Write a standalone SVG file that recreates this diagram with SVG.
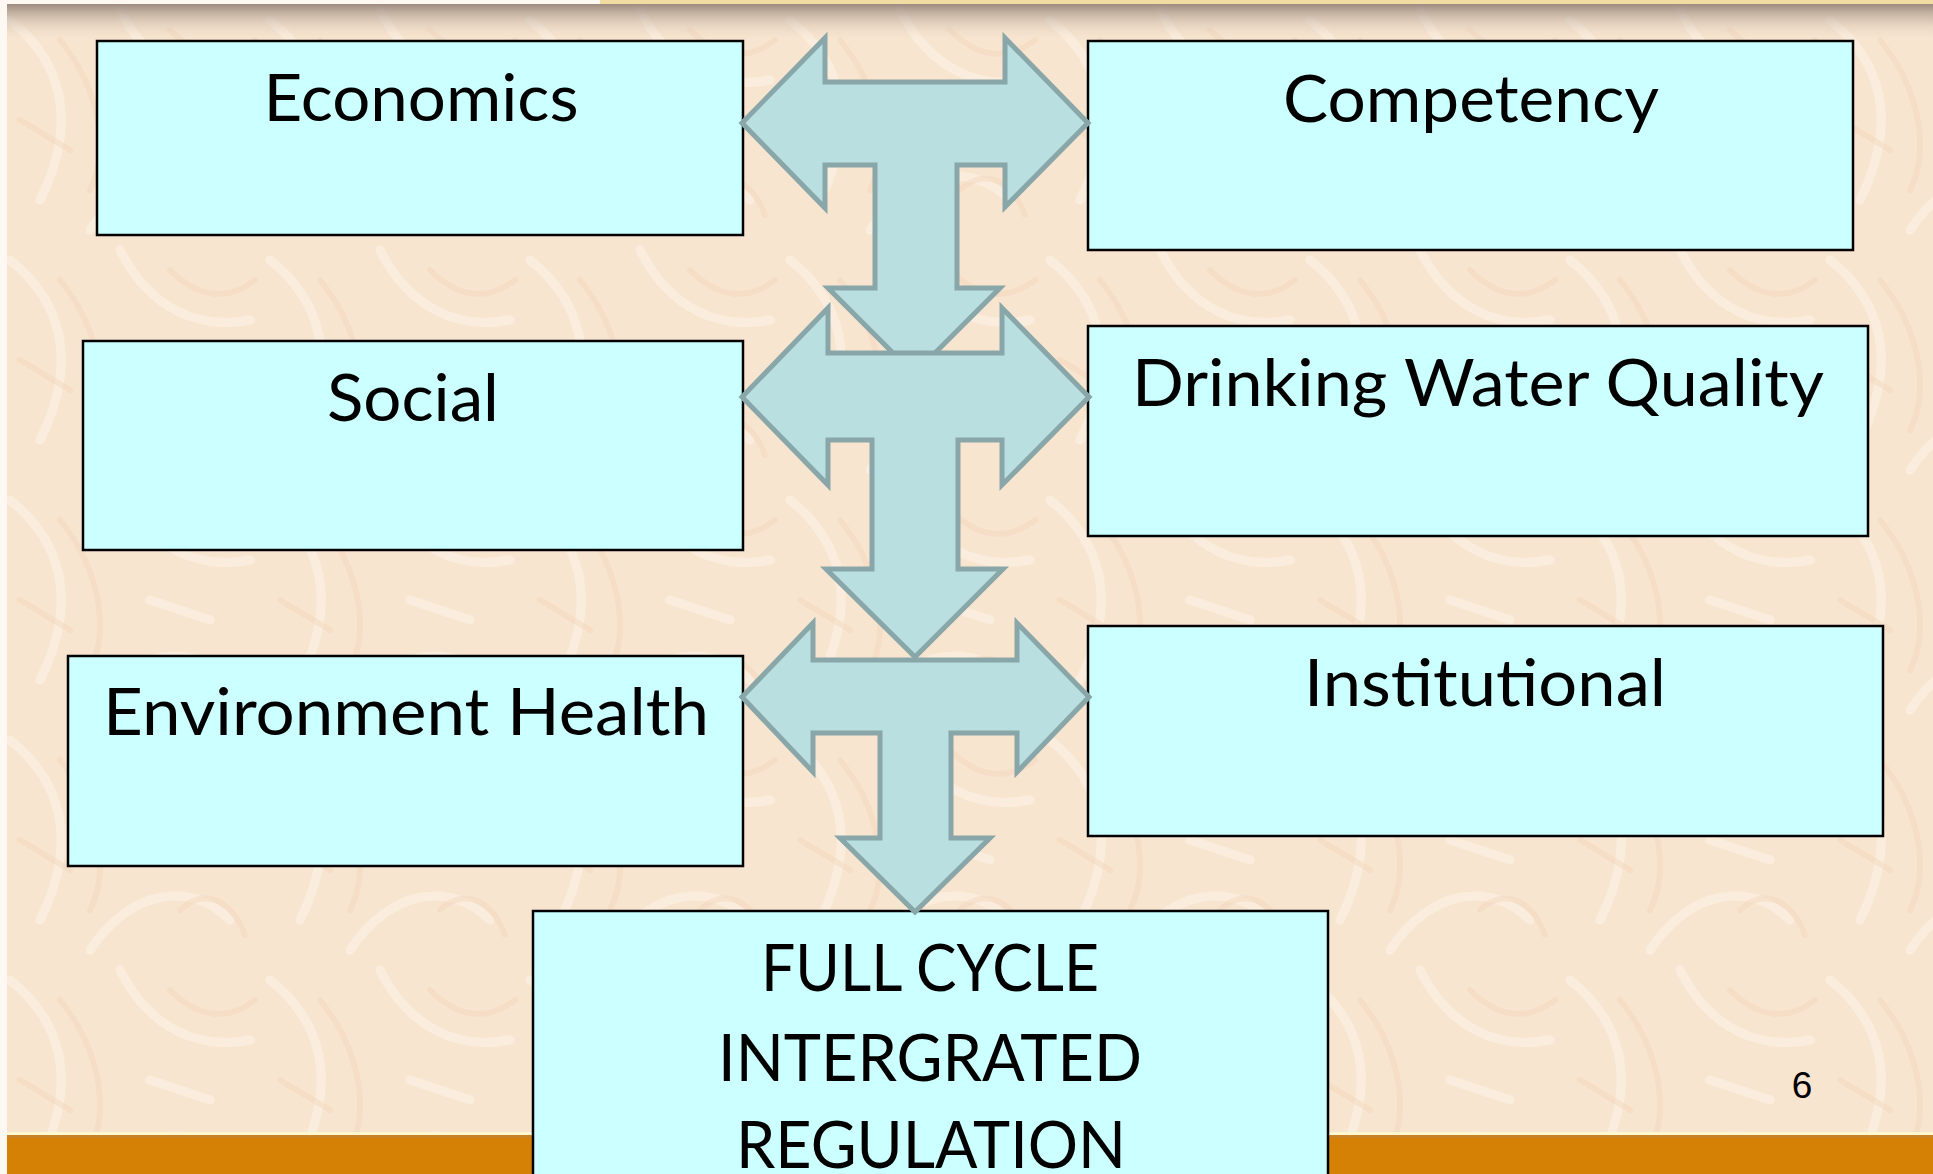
<svg xmlns="http://www.w3.org/2000/svg" width="1933" height="1174" viewBox="0 0 1933 1174">
  <defs>
    <style>
      .box { fill: #CCFFFF; stroke: #000000; stroke-width: 2.5; }
      .lbl { font-family: Lato, "Open Sans", "Liberation Sans", sans-serif; font-size: 65px; fill: #000000; text-anchor: middle; }
      .arrow { fill: #B9DFE1; stroke: #89A6A8; stroke-width: 5; stroke-linejoin: miter; }
      .tex1 { fill: none; stroke: #FDF3E7; stroke-width: 9; stroke-linecap: round; opacity: 0.55; }
      .tex2 { fill: none; stroke: #F1D3B6; stroke-width: 6; stroke-linecap: round; opacity: 0.4; }
    </style>
    <linearGradient id="topShade" x1="0" y1="0" x2="0" y2="1">
      <stop offset="0" stop-color="#8C7B70" stop-opacity="0.85"/>
      <stop offset="0.35" stop-color="#B3A193" stop-opacity="0.55"/>
      <stop offset="1" stop-color="#F8E5D0" stop-opacity="0"/>
    </linearGradient>
    <pattern id="texture" x="0" y="0" width="260" height="240" patternUnits="userSpaceOnUse">
      <path class="tex1" d="M10,20 C60,60 80,120 40,200"/>
      <path class="tex1" d="M120,10 C150,70 200,90 250,80"/>
      <path class="tex1" d="M90,230 C130,170 190,160 230,200"/>
      <path class="tex1" d="M150,120 L210,140"/>
      <path class="tex2" d="M60,40 C100,90 110,150 90,190"/>
      <path class="tex2" d="M170,30 C200,60 230,60 255,40"/>
      <path class="tex2" d="M20,120 L70,150"/>
      <path class="tex2" d="M180,190 C200,170 230,175 245,215"/>
    </pattern>
  </defs>

  <!-- background -->
  <rect x="0" y="0" width="1933" height="1174" fill="#F8E5D0"/>
  <rect x="0" y="0" width="1933" height="1134" fill="url(#texture)"/>
  <rect x="0" y="4" width="1933" height="38" fill="url(#topShade)"/>
  <rect x="0" y="0" width="600" height="4" fill="#FDF8F2"/>
  <rect x="600" y="0" width="1333" height="4" fill="#F3DCA3"/>
  <rect x="0" y="0" width="7" height="1174" fill="#FDF8F2"/>
  <rect x="0" y="1132" width="1933" height="3" fill="#FFF7CF"/>
  <rect x="0" y="1135" width="1933" height="3" fill="#C98327"/>
  <rect x="0" y="1138" width="1933" height="36" fill="#D58106"/>
  <rect x="0" y="1132" width="7" height="42" fill="#FDF8F2"/>

  <text x="1802" y="1098" font-family="'Liberation Sans', Arial, sans-serif" font-size="37" fill="#000000" text-anchor="middle">6</text>

  <!-- nodes -->
  <g id="node-economics">
    <rect class="box" x="97" y="41" width="646" height="194"/>
    <text class="lbl" x="421" y="121" textLength="315" lengthAdjust="spacingAndGlyphs">Economics</text>
  </g>
  <g id="node-competency">
    <rect class="box" x="1088" y="41" width="765" height="209"/>
    <text class="lbl" x="1471" y="122" textLength="376" lengthAdjust="spacingAndGlyphs">Competency</text>
  </g>
  <g id="node-social">
    <rect class="box" x="83" y="341" width="660" height="209"/>
    <text class="lbl" x="413" y="421" textLength="172" lengthAdjust="spacingAndGlyphs">Social</text>
  </g>
  <g id="node-drinking-water-quality">
    <rect class="box" x="1088" y="326" width="780" height="210"/>
    <text class="lbl" x="1478" y="406" textLength="692" lengthAdjust="spacingAndGlyphs">Drinking Water Quality</text>
  </g>
  <g id="node-environment-health">
    <rect class="box" x="68" y="656" width="675" height="210"/>
    <text class="lbl" x="406" y="735" textLength="606" lengthAdjust="spacingAndGlyphs">Environment Health</text>
  </g>
  <g id="node-institutional">
    <rect class="box" x="1088" y="626" width="795" height="210"/>
    <text class="lbl" x="1485" y="706" textLength="362" lengthAdjust="spacingAndGlyphs">Institutional</text>
  </g>
  <g id="node-full-cycle">
    <rect class="box" x="533" y="911" width="795" height="280"/>
    <text class="lbl" x="930" y="991" textLength="338" lengthAdjust="spacingAndGlyphs">FULL CYCLE</text>
    <text class="lbl" x="930" y="1081" textLength="424" lengthAdjust="spacingAndGlyphs">INTERGRATED</text>
    <text class="lbl" x="931" y="1168" textLength="390" lengthAdjust="spacingAndGlyphs">REGULATION</text>
  </g>

  <!-- connectors -->
  <g id="connectors">
    <path class="arrow" d="M742,123 L825,38 L825,82 L1005,82 L1005,38 L1088,123 L1005,207 L1005,165 L957,165 L957,288 L1000,288 L914,374 L828,288 L875,288 L875,165 L825,165 L825,208 Z"/>
    <path class="arrow" d="M742,397 L828,308 L828,353 L1002,353 L1002,308 L1089,397 L1002,485 L1002,440 L958,440 L958,569 L1003,569 L915,657 L826,569 L872,569 L872,440 L828,440 L828,485 Z"/>
    <path class="arrow" d="M742,697 L813,623 L813,660 L1017,660 L1017,623 L1089,697 L1017,772 L1017,733 L951,733 L951,838 L990,838 L915,912 L840,838 L880,838 L880,733 L813,733 L813,772 Z"/>
  </g>
</svg>
